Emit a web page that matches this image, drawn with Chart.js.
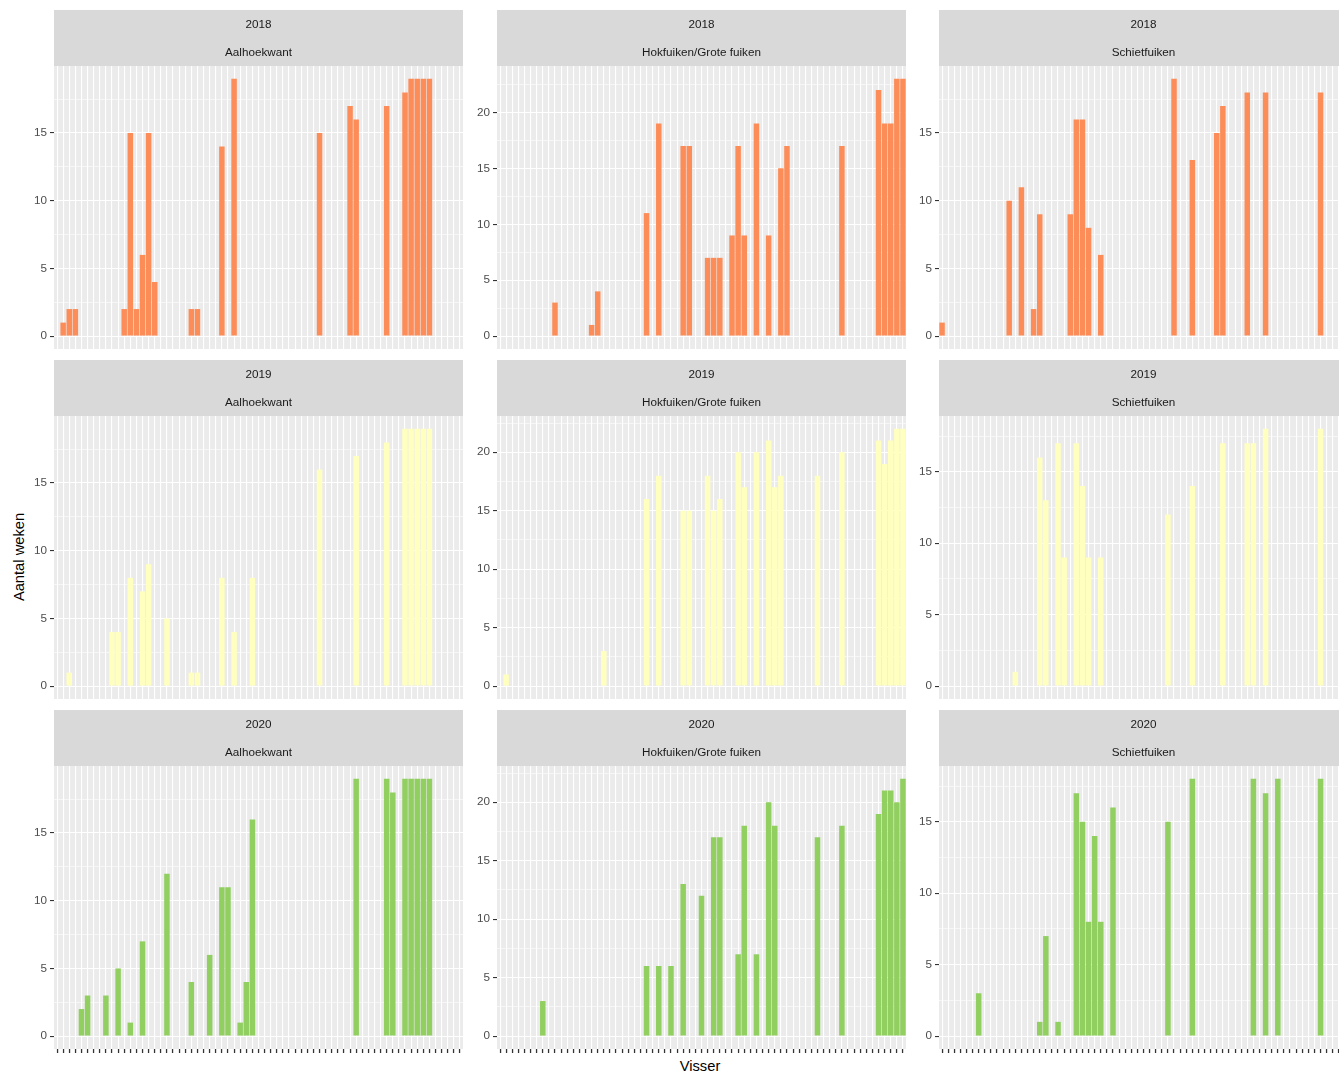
<!DOCTYPE html>
<html>
<head>
<meta charset="utf-8">
<script src="https://cdn.jsdelivr.net/npm/chart.js@4/dist/chart.umd.min.js"></script>
<style>
  html, body { margin: 0; padding: 0; background: #ffffff; overflow: hidden; width: 1339px; height: 1075px; }
  canvas { position: absolute; }
  .axis-title { position: absolute; font-family: "Liberation Sans", Arial, sans-serif; font-size: 14.7px; color: #000000; white-space: nowrap; }
</style>
</head>
<body>
<div class="axis-title" style="left:18.5px; top:557px; transform: translate(-50%, -50%) rotate(-90deg);">Aantal weken</div>
<div class="axis-title" style="left:700px; top:1066px; transform: translate(-50%, -50%);">Visser</div>
<script>
// Fishers (x categories), one bar slot each
const vissers = [
  'V01','V02','V03','V04','V05','V06','V07','V08','V09','V10',
  'V11','V12','V13','V14','V15','V16','V17','V18','V19','V20',
  'V21','V22','V23','V24','V25','V26','V27','V28','V29','V30',
  'V31','V32','V33','V34','V35','V36','V37','V38','V39','V40',
  'V41','V42','V43','V44','V45','V46','V47','V48','V49','V50',
  'V51','V52','V53','V54','V55','V56','V57','V58','V59','V60',
  'V61','V62','V63','V64','V65','V66','V67'
];
const years = ['2018', '2019', '2020'];
const gears = ['Aalhoekwant', 'Hokfuiken/Grote fuiken', 'Schietfuiken'];
const yearColors = ['#FC8D59', '#FFFFBF', '#91CF60'];

const n = null;
// Number of weeks fished per fisher, per year and gear type
const aal2018 = [
  n,1,2,2,n,n,n,n,n,n,
  n,2,15,2,6,15,4,n,n,n,
  n,n,2,2,n,n,n,14,n,19,
  n,n,n,n,n,n,n,n,n,n,
  n,n,n,15,n,n,n,n,17,16,
  n,n,n,n,17,n,n,18,19,19,
  19,19,n,n,n,n,n];
const hok2018 = [
  n,n,n,n,n,n,n,n,n,3,
  n,n,n,n,n,1,4,n,n,n,
  n,n,n,n,11,n,19,n,n,n,
  17,17,n,n,7,7,7,n,9,17,
  9,n,19,n,9,n,15,17,n,n,
  n,n,n,n,n,n,17,n,n,n,
  n,n,22,19,19,23,23];
const schiet2018 = [
  1,n,n,n,n,n,n,n,n,n,
  n,10,n,11,n,2,9,n,n,n,
  n,9,16,16,8,n,6,n,n,n,
  n,n,n,n,n,n,n,n,19,n,
  n,13,n,n,n,15,17,n,n,n,
  18,n,n,18,n,n,n,n,n,n,
  n,n,18,n,n,n,n];
const aal2019 = [
  n,n,1,n,n,n,n,n,n,4,
  4,n,8,n,7,9,n,n,5,n,
  n,n,1,1,n,n,n,8,n,4,
  n,n,8,n,n,n,n,n,n,n,
  n,n,n,16,n,n,n,n,n,17,
  n,n,n,n,18,n,n,19,19,19,
  19,19,n,n,n,n,n];
const hok2019 = [
  n,1,n,n,n,n,n,n,n,n,
  n,n,n,n,n,n,n,3,n,n,
  n,n,n,n,16,n,18,n,n,n,
  15,15,n,n,18,15,16,n,n,20,
  17,n,20,n,21,17,18,n,n,n,
  n,n,18,n,n,n,20,n,n,n,
  n,n,21,19,21,22,22];
const schiet2019 = [
  n,n,n,n,n,n,n,n,n,n,
  n,n,1,n,n,n,16,13,n,17,
  9,n,17,14,9,n,9,n,n,n,
  n,n,n,n,n,n,n,12,n,n,
  n,14,n,n,n,n,17,n,n,n,
  17,17,n,18,n,n,n,n,n,n,
  n,n,18,n,n,n,n];
const aal2020 = [
  n,n,n,n,2,3,n,n,3,n,
  5,n,1,n,7,n,n,n,12,n,
  n,n,4,n,n,6,n,11,11,n,
  1,4,16,n,n,n,n,n,n,n,
  n,n,n,n,n,n,n,n,n,19,
  n,n,n,n,19,18,n,19,19,19,
  19,19,n,n,n,n,n];
const hok2020 = [
  n,n,n,n,n,n,n,3,n,n,
  n,n,n,n,n,n,n,n,n,n,
  n,n,n,n,6,n,6,n,6,n,
  13,n,n,12,n,17,17,n,n,7,
  18,n,7,n,20,18,n,n,n,n,
  n,n,17,n,n,n,18,n,n,n,
  n,n,19,21,21,20,22];
const schiet2020 = [
  n,n,n,n,n,n,3,n,n,n,
  n,n,n,n,n,n,1,7,n,1,
  n,n,17,15,8,14,8,n,16,n,
  n,n,n,n,n,n,n,15,n,n,
  n,18,n,n,n,n,n,n,n,n,
  n,18,n,17,n,18,n,n,n,n,
  n,n,18,n,n,n,n];

const panelValues = [
  [aal2018, hok2018, schiet2018],
  [aal2019, hok2019, schiet2019],
  [aal2020, hok2020, schiet2020]
];

// Facet grid geometry
const CANVAS_LEFT = [0, 443, 885];
const CANVAS_TOP = [10, 360, 710];
const AXIS_W = 54, STRIP_H = 56, PLOT_W = 409, PLOT_H = 283, XAXIS_H = 6;
const FONT = '"Liberation Sans", Arial, Helvetica, sans-serif';

// Grey panel background plus the two-line facet strip above it
const panelDecor = {
  id: 'panelDecor',
  beforeDraw(chart, args, opts) {
    const { ctx, chartArea: a } = chart;
    ctx.save();
    ctx.fillStyle = '#EBEBEB';
    ctx.fillRect(a.left, a.top, a.right - a.left, a.bottom - a.top);
    ctx.fillStyle = '#D9D9D9';
    ctx.fillRect(a.left, a.top - STRIP_H, a.right - a.left, STRIP_H);
    ctx.fillStyle = '#1A1A1A';
    ctx.font = '11.7px ' + FONT;
    ctx.textAlign = 'center';
    ctx.textBaseline = 'middle';
    const cx = (a.left + a.right) / 2;
    ctx.fillText(opts.year, cx, a.top - STRIP_H + 14.5);
    ctx.fillText(opts.gear, cx, a.top - STRIP_H + 42.5);
    ctx.restore();
  }
};

function isMajor(v) { return Math.abs(v % 5) < 1e-9; }

function makePanel(row, col) {
  const values = panelValues[row][col];
  const bottom = row === 2;
  const canvas = document.createElement('canvas');
  canvas.width = AXIS_W + PLOT_W;
  canvas.height = STRIP_H + PLOT_H + (bottom ? XAXIS_H : 0);
  canvas.style.left = CANVAS_LEFT[col] + 'px';
  canvas.style.top = CANVAS_TOP[row] + 'px';
  canvas.style.width = canvas.width + 'px';
  canvas.style.height = canvas.height + 'px';
  document.body.appendChild(canvas);

  const top = Math.max(...values.filter(v => v !== null));

  new Chart(canvas, {
    type: 'bar',
    data: {
      labels: vissers,
      datasets: [{
        data: values,
        backgroundColor: yearColors[row],
        borderWidth: 0,
        categoryPercentage: 1,
        barPercentage: 0.9
      }]
    },
    options: {
      responsive: false,
      devicePixelRatio: 1,
      animation: false,
      events: [],
      layout: { padding: { top: STRIP_H, left: 0, right: 0, bottom: 0 } },
      plugins: {
        legend: { display: false },
        tooltip: { enabled: false },
        panelDecor: { year: years[row], gear: gears[col] }
      },
      scales: {
        x: {
          type: 'category',
          offset: true,
          grid: {
            offset: false,
            color: '#FFFFFF',
            lineWidth: 1.1,
            drawTicks: bottom,
            tickColor: '#333333',
            tickLength: 4,
            tickWidth: 1.3
          },
          border: { display: false },
          ticks: { display: false },
          afterFit(s) {
            s.height = bottom ? XAXIS_H : 0;
            s.paddingLeft = 0; s.paddingRight = 0; s.paddingTop = 0; s.paddingBottom = 0;
          }
        },
        y: {
          min: -0.05 * top,
          max: 1.05 * top,
          afterBuildTicks(s) {
            const t = [];
            for (let v = 0; v <= s.max; v += 2.5) t.push({ value: v });
            s.ticks = t;
          },
          afterFit(s) {
            s.width = AXIS_W;
            s.paddingLeft = 0; s.paddingRight = 0; s.paddingTop = 0; s.paddingBottom = 0;
          },
          grid: {
            color: '#FFFFFF',
            lineWidth: c => (c.tick && isMajor(c.tick.value)) ? 1.1 : 0.55,
            tickColor: c => (c.tick && isMajor(c.tick.value)) ? '#333333' : 'rgba(0,0,0,0)',
            tickLength: 4,
            tickWidth: 1.1
          },
          border: { display: false },
          ticks: {
            autoSkip: false,
            padding: 3,
            color: '#4D4D4D',
            font: { family: FONT, size: 11.7 },
            callback: v => isMajor(v) ? String(v) : ''
          }
        }
      }
    },
    plugins: [panelDecor]
  });
}

for (let r = 0; r < 3; r++) {
  for (let c = 0; c < 3; c++) makePanel(r, c);
}
</script>
</body>
</html>
